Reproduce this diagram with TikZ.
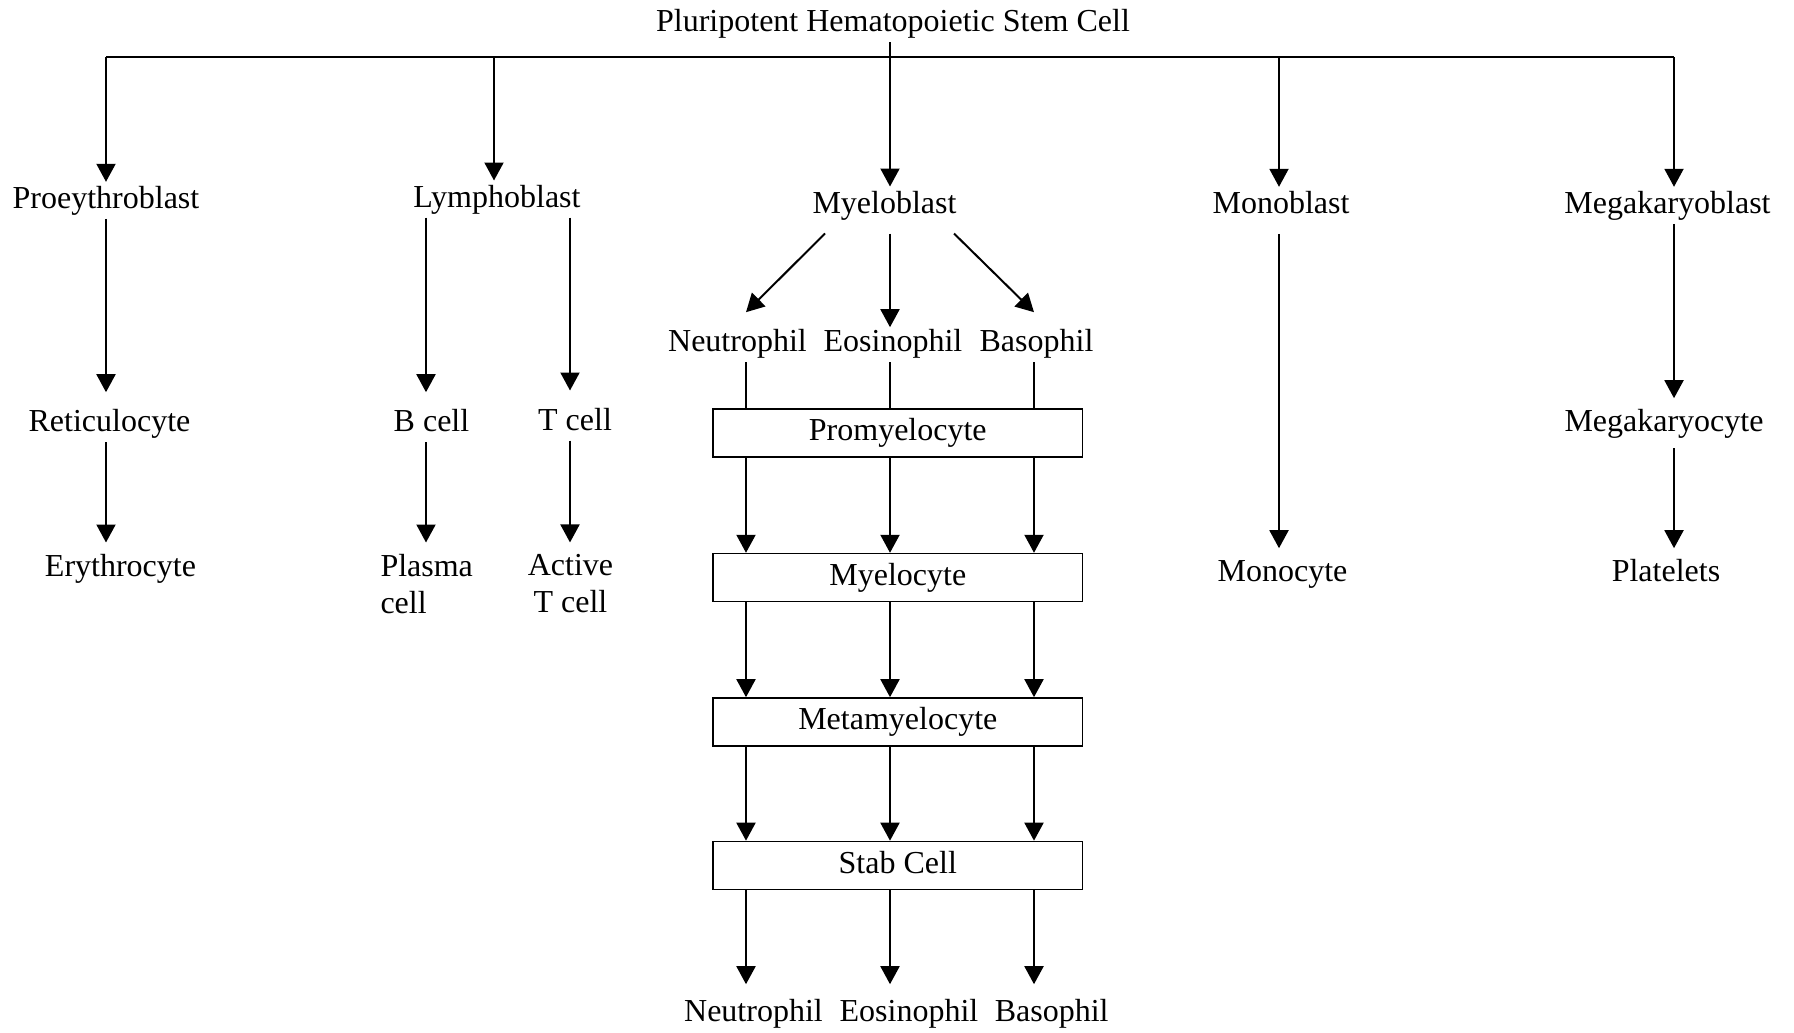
\documentclass[tikz,border=0pt]{standalone}
\usepackage{fontspec}
\setmainfont{Liberation Serif}
\usetikzlibrary{arrows.meta,calc,positioning}
\begin{document}
\begin{tikzpicture}[x=0.4pt,y=-0.4pt,every node/.style={font=\fontsize{12.8}{14.8}\selectfont},
  cell/.style={inner sep=0pt,anchor=base,text height=13.2pt,text depth=4pt},
  stage/.style={draw,line width=0.65pt,minimum width=147.6pt,minimum height=19.2pt,inner sep=0pt,text height=8.8pt,text depth=2.8pt},
  arr/.style={line width=0.8pt,-{Triangle[length=7.2pt,width=7.6pt]}},
  ln/.style={line width=0.8pt}]
  \useasboundingbox (0,0) rectangle (1794,1033);
  \foreach \n/\x in {P/106,Ly/494,B/426,T/570,N/746,E/890,Ba/1034,M/1279,K/1674} \coordinate (c\n) at (\x,57.3);
  \node[cell] (title) at (893,31.7) {Pluripotent Hematopoietic Stem Cell};
  \node[cell,text height=10.4pt] (pro) at (106,208.3) {Proeythroblast};
  \node[cell,text height=10.4pt] (lym) at (497,207) {Lymphoblast};
  \node[cell,text height=10.4pt,text depth=8pt] (mye) at (884.5,213) {Myeloblast};
  \node[cell,text height=10.4pt,text depth=8pt] (mon) at (1281,213.3) {Monoblast};
  \node[cell,text height=10.4pt] (mgb) at (1667.5,213.3) {Megakaryoblast};
  \node[cell,text height=15.6pt] (ret) at (109.5,431.7) {Reticulocyte};
  \node[cell] (ery) at (120.5,576) {Erythrocyte};
  \node[cell,text height=15.6pt] (bce) at (431.5,431.7) {B cell};
  \node[cell,text height=15.6pt] (tce) at (575,430) {T cell};
  \node[cell,anchor=base west,align=left,text height=28pt] (pla) at (380,613) {Plasma\\cell};
  \node[cell,align=center,text height=27.9pt] (act) at (570.5,612.7) {Active\\T cell};
  \node[cell,text depth=6.4pt] (mgc) at (1664,431.7) {Megakaryocyte};
  \node[cell] (moc) at (1282.5,581.7) {Monocyte};
  \node[cell] (plt) at (1666,581.7) {Platelets};
  \foreach \n/\t/\x in {neu/Neutrophil/737.5,eos/Eosinophil/893,bas/Basophil/1036.5}
    \node[cell,text height=9.6pt] (\n) at (\x,351.7) {\t};
  \foreach \i/\t/\y in {1/Promyelocyte/433.3,2/Myelocyte/577.6,3/Metamyelocyte/722,4/Stab Cell/865.5}
    \node[stage] (st\i) at (897.8,\y) {\t};
  \foreach \n/\t/\x in {neu2/Neutrophil/753.5,eos2/Eosinophil/909,bas2/Basophil/1051.7}
    \node[cell,text height=14.8pt] (\n) at (\x,1021.7) {\t};

  \draw[ln] (cP) -- (cK);
  \foreach \c/\n in {P/pro,Ly/lym,M/mon,K/mgb} \draw[arr] (c\c) -- (c\c |- \n.north);
  \draw[arr] (title.south -| cE) -- (cE |- mye.north);
  \draw[arr] (pro.south -| cP) -- (cP |- ret.north);
  \draw[arr] (ret.south -| cP) -- (cP |- ery.north);
  \draw[arr] (lym.south -| cB) -- (cB |- bce.north);
  \draw[arr] (lym.south -| cT) -- (cT |- tce.north);
  \draw[arr] (bce.south -| cB) -- (cB |- pla.north);
  \draw[arr] (tce.south -| cT) -- (cT |- act.north);
  \draw[arr] (mon.south -| cM) -- (cM |- moc.north);
  \draw[arr] (mgb.south -| cK) -- (cK |- mgc.north);
  \draw[arr] (mgc.south -| cK) -- (cK |- plt.north);
  \draw[arr] ($(mye.south west)+(13,0)$) -- ($(cN |- neu.north)+(0,-15)$);
  \draw[arr] (mye.south -| cE) -- (cE |- eos.north);
  \draw[arr] ($(mye.south east)+(-3,0)$) -- ($(cBa |- bas.north)+(0,-15)$);
  \foreach \c/\n/\m in {N/neu/neu2,E/eos/eos2,Ba/bas/bas2}{
    \draw[ln] (\n.south -| c\c) -- (c\c |- st1.north);
    \foreach \i/\j in {1/2,2/3,3/4} \draw[arr] (st\i.south -| c\c) -- (c\c |- st\j.north);
    \draw[arr] (st4.south -| c\c) -- (c\c |- \m.north);
  }
\end{tikzpicture}
\end{document}
